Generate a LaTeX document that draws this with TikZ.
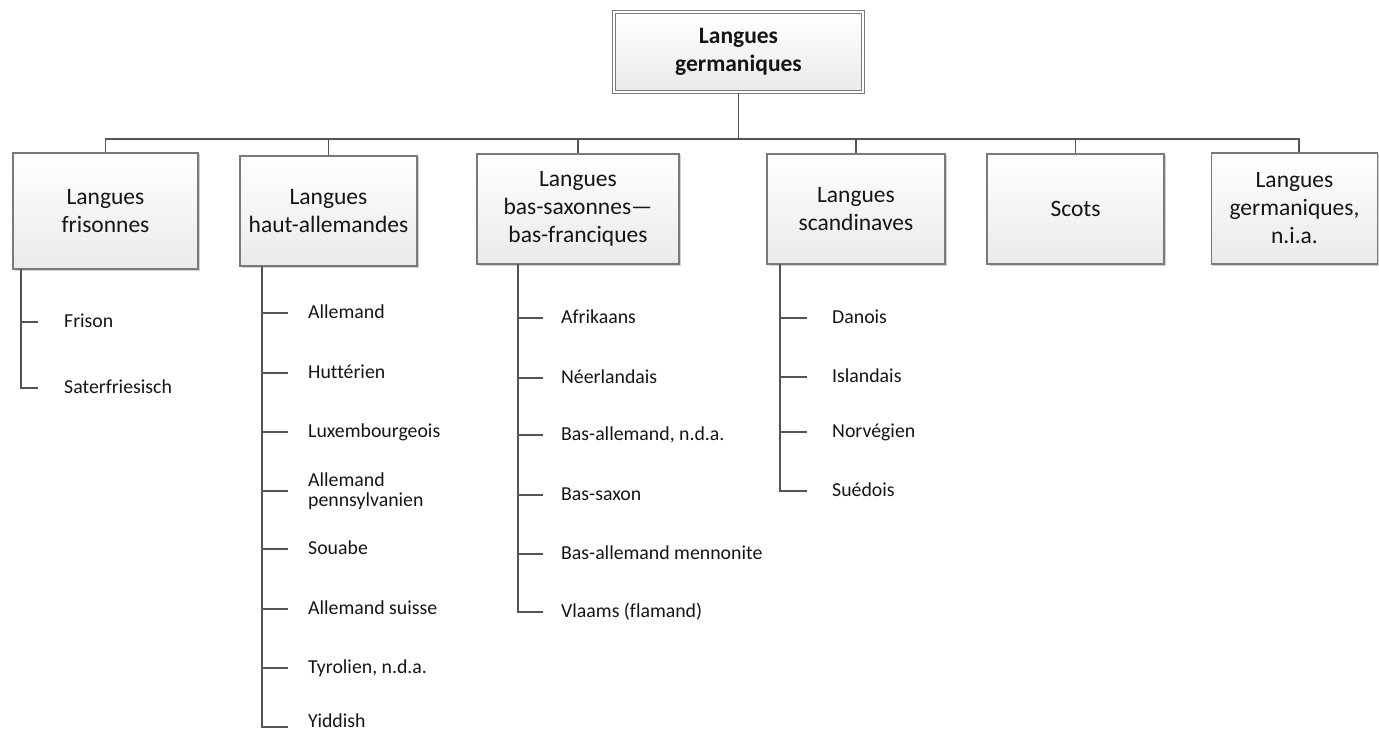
\documentclass[tikz,border=0pt]{standalone}
\usepackage{fontspec}
\setmainfont{Carlito}[Ligatures={NoCommon}]
\usepackage{tikz}
\usetikzlibrary{positioning,shadows}
\definecolor{lgline}{HTML}{555555}
\definecolor{lgframe}{HTML}{7A7A7A}
\definecolor{lgshade}{HTML}{EAEAEA}
\definecolor{lgink}{HTML}{151515}
\tikzset{
  rootBox/.style={draw=lgframe, line width=0.8pt, double=white, double distance=2pt, top color=white, bottom color=lgshade, align=center, inner sep=0pt, text=lgink, font=\fontsize{23.5}{27.5}\selectfont\bfseries, drop shadow={shadow xshift=1.5pt, shadow yshift=-1.5pt, opacity=0.18, fill=black}},
  catBox/.style={draw=lgframe, line width=1.1pt, top color=white, bottom color=lgshade, align=center, inner sep=0pt, text=lgink, font=\fontsize{23.5}{28}\selectfont, drop shadow={shadow xshift=1.5pt, shadow yshift=-1.5pt, opacity=0.18, fill=black}},
  leafLabel/.style={anchor=west, inner sep=0pt, text height=14pt, text depth=4pt, text=lgink, font=\fontsize{19.8}{20.5}\selectfont},
  leafLabelTwo/.style={anchor=west, inner sep=0pt, align=left, text=lgink, font=\fontsize{19.8}{20.5}\selectfont},
  treeLine/.style={draw=lgline, line width=1.8pt}
}

\begin{document}
\begin{tikzpicture}[x=1pt, y=-1pt]
  \useasboundingbox (0,0) rectangle (1379,730);

  \node[rootBox, minimum width=249.5pt, minimum height=80.5pt] (germ) at (738.5,52) {Langues\\ germaniques};

  \node[catBox, minimum width=185pt, minimum height=116pt] (fris) at (105.5,211) {Langues\\ frisonnes};
  \node[catBox, minimum width=177pt, minimum height=110pt] (haut) at (328.5,211) {Langues\\ haut-allemandes};
  \node[catBox, minimum width=202pt, minimum height=110pt] (bas) at (578,209) {Langues\\ bas-saxonnes---\\ bas-franciques};
  \node[catBox, minimum width=178pt, minimum height=110pt] (scand) at (856,209) {Langues\\ scandinaves};
  \node[catBox, minimum width=177pt, minimum height=110pt] (scots) at (1075.5,209) {Scots};
  \node[catBox, minimum width=166pt, minimum height=111pt] (nia) at (1294.5,208.5) {Langues\\ germaniques,\\ n.i.a.};

  \coordinate (bus) at (738.5,139);
  \draw[treeLine] (germ) -- (bus);
  \draw[treeLine] (bus) -| (fris);
  \draw[treeLine] (bus) -| (haut);
  \draw[treeLine] (bus) -| (bas);
  \draw[treeLine] (bus) -| (scand);
  \draw[treeLine] (bus) -| (scots);
  \draw[treeLine] (bus) -| ([xshift=4.5pt]nia.north);

  \node[leafLabel] (frison) at (64,322) {Frison};
  \node[leafLabel] (sater) at (64,388) {Saterfriesisch};

  \node[leafLabel] (allemand) at (308,313) {Allemand};
  \node[leafLabel] (hutt) at (308,373) {Huttérien};
  \node[leafLabel] (luxem) at (308,432) {Luxembourgeois};
  \node[leafLabelTwo] (penn) at (308,491) {Allemand\\ pennsylvanien};
  \node[leafLabel] (souabe) at (308,549) {Souabe};
  \node[leafLabel] (suisse) at (308,609) {Allemand suisse};
  \node[leafLabel] (tyrol) at (308,668) {Tyrolien, n.d.a.};
  \node[leafLabel] (yiddish) at (308,722) {Yiddish};

  \node[leafLabel] (afrik) at (561,318) {Afrikaans};
  \node[leafLabel] (neerl) at (561,378) {Néerlandais};
  \node[leafLabel] (basall) at (561,435) {Bas-allemand, n.d.a.};
  \node[leafLabel] (bassax) at (561,495) {Bas-saxon};
  \node[leafLabel] (mennon) at (561,554) {Bas-allemand mennonite};
  \node[leafLabel] (vlaams) at (561,612) {Vlaams (flamand)};

  \node[leafLabel] (danois) at (832,318) {Danois};
  \node[leafLabel] (island) at (832,377) {Islandais};
  \node[leafLabel] (norv) at (832,432) {Norvégien};
  \node[leafLabel] (suedois) at (832,491) {Suédois};

  \coordinate (frisTrunk) at (21,269);
  \coordinate (hautTrunk) at (262,266);
  \coordinate (basTrunk) at (518,264);
  \coordinate (scandTrunk) at (780,264);

  \draw[treeLine] (frisTrunk) |- ([xshift=-26pt]sater.west);
  \draw[treeLine] (frison.west -| frisTrunk) -- ([xshift=-26pt]frison.west);

  \draw[treeLine] (hautTrunk) |- ([xshift=-20pt, yshift=-5pt]yiddish.west);
  \draw[treeLine] (allemand.west -| hautTrunk) -- ([xshift=-20pt]allemand.west);
  \draw[treeLine] (hutt.west -| hautTrunk) -- ([xshift=-20pt]hutt.west);
  \draw[treeLine] (luxem.west -| hautTrunk) -- ([xshift=-20pt]luxem.west);
  \draw[treeLine] (penn.west -| hautTrunk) -- ([xshift=-20pt]penn.west);
  \draw[treeLine] (souabe.west -| hautTrunk) -- ([xshift=-20pt]souabe.west);
  \draw[treeLine] (suisse.west -| hautTrunk) -- ([xshift=-20pt]suisse.west);
  \draw[treeLine] (tyrol.west -| hautTrunk) -- ([xshift=-20pt]tyrol.west);

  \draw[treeLine] (basTrunk) |- ([xshift=-18pt]vlaams.west);
  \draw[treeLine] (afrik.west -| basTrunk) -- ([xshift=-18pt]afrik.west);
  \draw[treeLine] (neerl.west -| basTrunk) -- ([xshift=-18pt]neerl.west);
  \draw[treeLine] (basall.west -| basTrunk) -- ([xshift=-18pt]basall.west);
  \draw[treeLine] (bassax.west -| basTrunk) -- ([xshift=-18pt]bassax.west);
  \draw[treeLine] (mennon.west -| basTrunk) -- ([xshift=-18pt]mennon.west);

  \draw[treeLine] (scandTrunk) |- ([xshift=-25pt]suedois.west);
  \draw[treeLine] (danois.west -| scandTrunk) -- ([xshift=-25pt]danois.west);
  \draw[treeLine] (island.west -| scandTrunk) -- ([xshift=-25pt]island.west);
  \draw[treeLine] (norv.west -| scandTrunk) -- ([xshift=-25pt]norv.west);
\end{tikzpicture}
\end{document}
